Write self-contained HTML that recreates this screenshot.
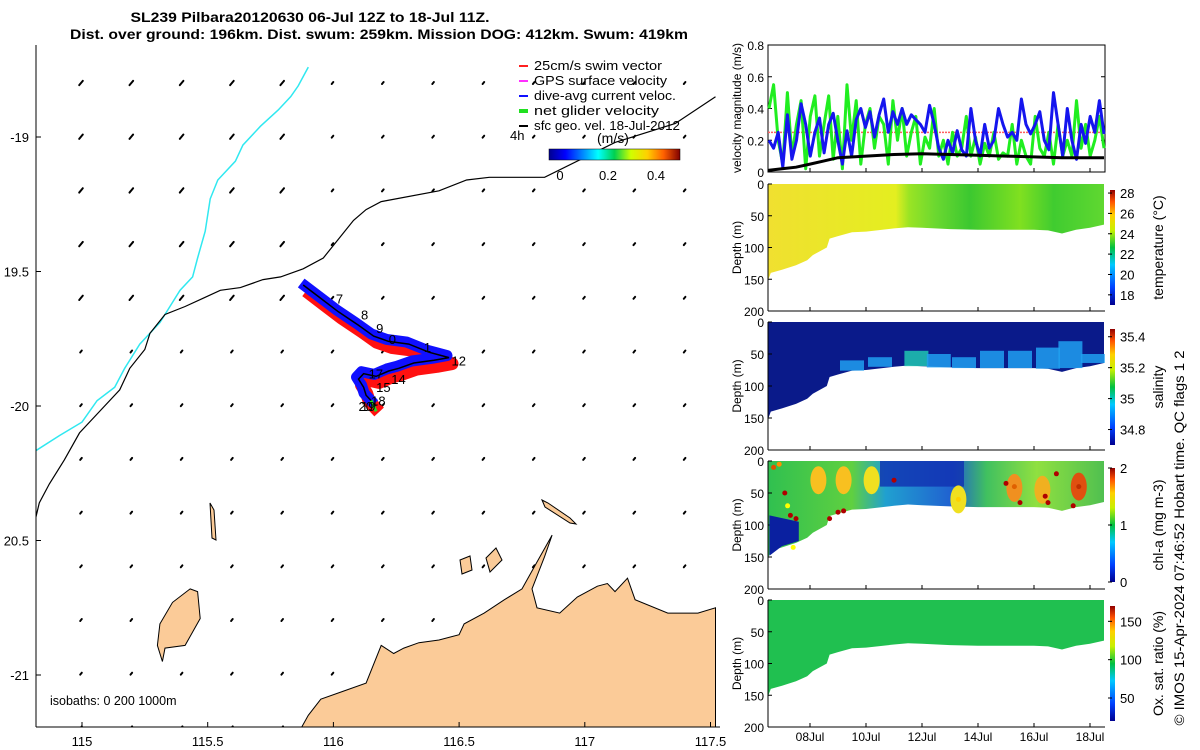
<!DOCTYPE html>
<html><head><meta charset="utf-8"><style>
body{margin:0;background:#fff;}
svg{display:block;font-family:"Liberation Sans","DejaVu Sans",sans-serif;}
</style></head><body>
<svg id="fig" width="1200" height="750" viewBox="0 0 1200 750">
<defs>
<linearGradient id="jetH" x1="0" x2="1" y1="0" y2="0">
<stop offset="0" stop-color="#00008f"/><stop offset="0.125" stop-color="#0000ff"/><stop offset="0.375" stop-color="#00ffff"/><stop offset="0.5" stop-color="#00d050"/><stop offset="0.625" stop-color="#d0ff00"/><stop offset="0.75" stop-color="#ffd000"/><stop offset="0.875" stop-color="#ff6000"/><stop offset="1" stop-color="#800000"/></linearGradient>
<linearGradient id="jetV" x1="0" x2="0" y1="1" y2="0">
<stop offset="0" stop-color="#00008f"/><stop offset="0.15" stop-color="#0040ff"/><stop offset="0.35" stop-color="#00c8ff"/><stop offset="0.5" stop-color="#00c040"/><stop offset="0.65" stop-color="#c8f000"/><stop offset="0.78" stop-color="#ffd000"/><stop offset="0.9" stop-color="#ff5000"/><stop offset="1" stop-color="#900000"/></linearGradient>
<linearGradient id="tempFill" x1="0" x2="1"><stop offset="0" stop-color="#f0e030"/><stop offset="0.38" stop-color="#e4ee20"/><stop offset="0.42" stop-color="#9ae424"/><stop offset="0.5" stop-color="#6ad830"/><stop offset="0.6" stop-color="#3cc830"/><stop offset="0.75" stop-color="#80e020"/><stop offset="0.85" stop-color="#40cc30"/><stop offset="1" stop-color="#60d830"/></linearGradient>
<linearGradient id="salFill" x1="0" x2="0" y1="0" y2="1"><stop offset="0" stop-color="#0a1a8a"/><stop offset="1" stop-color="#0a1a8a"/></linearGradient>
<linearGradient id="chlFill" x1="0" x2="1"><stop offset="0" stop-color="#30c050"/><stop offset="0.25" stop-color="#60d040"/><stop offset="0.35" stop-color="#20a0d0"/><stop offset="0.55" stop-color="#2060d0"/><stop offset="0.65" stop-color="#40c060"/><stop offset="0.8" stop-color="#90e040"/><stop offset="1" stop-color="#50c050"/></linearGradient>
</defs>
<text x="310" y="22" text-anchor="middle" font-size="13.5" font-weight="bold" textLength="359" lengthAdjust="spacingAndGlyphs">SL239 Pilbara20120630 06-Jul 12Z to 18-Jul 11Z.</text>
<text x="379" y="39" text-anchor="middle" font-size="13.5" font-weight="bold" textLength="618" lengthAdjust="spacingAndGlyphs">Dist. over ground: 196km. Dist. swum: 259km. Mission DOG: 412km. Swum: 419km</text>
<g id="map"></g>
<g id="right"></g>
<text transform="translate(1184,538) rotate(-90)" text-anchor="middle" font-size="14" textLength="375" lengthAdjust="spacingAndGlyphs">© IMOS 15-Apr-2024 07:46:52 Hobart time. QC flags 1  2</text>
</svg>
<script>
// ---------- data ----------
const lonTicks=[115,115.5,116,116.5,117,117.5];
const latTicks=[-19,-19.5,-20,-20.5,-21];
const dayTicks=[8,10,12,14,16,18];
const dayLabels=["08Jul","10Jul","12Jul","14Jul","16Jul","18Jul"];
const velBlue=[0.2,0.15,0.25,0.03,0.36,0.08,0.2,0.43,0.3,0.1,0.25,0.34,0.12,0.3,0.37,0.2,0.05,0.26,0.1,0.33,0.4,0.28,0.38,0.22,0.36,0.46,0.25,0.38,0.3,0.4,0.3,0.36,0.33,0.3,0.25,0.42,0.3,0.15,0.08,0.2,0.12,0.26,0.14,0.1,0.4,0.2,0.1,0.3,0.15,0.2,0.4,0.3,0.22,0.25,0.2,0.46,0.3,0.24,0.3,0.38,0.2,0.14,0.5,0.3,0.1,0.4,0.2,0.08,0.3,0.18,0.35,0.25,0.45,0.24];
const velGreen=[0.4,0.55,0.2,0.05,0.5,0.1,0.3,0.45,0.02,0.35,0.48,0.1,0.3,0.48,0.08,0.35,0.02,0.55,0.2,0.45,0.05,0.3,0.4,0.15,0.35,0.3,0.05,0.45,0.2,0.4,0.1,0.25,0.35,0.05,0.22,0.15,0.4,0.1,0.2,0.05,0.25,0.1,0.15,0.35,0.1,0.22,0.05,0.18,0.1,0.25,0.08,0.12,0.1,0.3,0.05,0.2,0.1,0.05,0.35,0.15,0.1,0.25,0.05,0.3,0.1,0.2,0.1,0.45,0.15,0.3,0.1,0.2,0.35,0.15];
const geoDays=[6.5,7,7.5,8,8.5,9,10,11,12,13,14,15,16,17,18,18.5];
const geoVel=[0.01,0.02,0.03,0.05,0.07,0.09,0.1,0.11,0.115,0.11,0.105,0.1,0.095,0.09,0.09,0.09];
const swimSpeed=0.25;
const bottomDays=[6.5,6.6,7,7.5,7.9,8.1,8.6,8.7,9,9.5,10,11,11.5,12,13,14,15,16,16.5,17,17.5,18,18.5];
const bottomDepth=[152,140,135,128,120,112,100,86,82,76,75,70,68,69,71,72,72,72,73,78,72,69,64];
const chlDotsDay=[6.7,7.1,7.3,7.5,8.7,9,9.2,11,13.3,15,15.3,15.5,16.4,16.5,16.8,17.4,17.6,7.2,7.4,6.9];
const chlDotsDepth=[10,50,85,90,90,80,78,30,60,35,40,65,55,65,20,70,40,70,135,5];
const chlDotsColor=["#e05000","#b00000","#b00000","#b00000","#b00000","#b00000","#b00000","#b00000","#ffd000","#b00000","#e06000","#b00000","#b00000","#b00000","#b00000","#b00000","#c03000","#ffff00","#ffff00","#ff9000"];
const salPatchDay=[9.5,10.5,11.8,12.6,13.5,14.5,15.5,16.5,17.3,18.1];
const salPatchTop=[60,55,45,50,55,45,45,40,30,50];
const trackLon=[115.88,115.95,116.02,116.1,116.16,116.22,116.3,116.38,116.46,116.4,116.32,116.26,116.22,116.17,116.12,116.1,116.12,116.13,116.15,116.17];
const trackLat=[-19.55,-19.6,-19.65,-19.7,-19.74,-19.76,-19.77,-19.8,-19.82,-19.83,-19.84,-19.86,-19.87,-19.89,-19.88,-19.9,-19.93,-19.96,-19.98,-20.0];
const dayMarkLabels=["7","8","9","0","1","12","14","15","17","18","19","20"];
const dayMarkLon=[116.01,116.11,116.17,116.22,116.36,116.47,116.23,116.17,116.14,116.15,116.11,116.1];
const dayMarkLat=[-19.6,-19.66,-19.71,-19.75,-19.78,-19.83,-19.9,-19.93,-19.88,-19.98,-20.0,-20.0];
const coastLon=[115.84,115.9,115.95,116.04,116.13,116.19,116.24,116.28,116.34,116.42,116.5,116.52,116.6,116.68,116.75,116.81,116.87,116.84,116.79,116.81,116.9,116.97,117.05,117.09,117.12,117.17,117.2,117.33,117.45,117.52,117.52];
const coastLat=[-21.25,-21.15,-21.09,-21.06,-21.03,-20.89,-20.92,-20.9,-20.88,-20.87,-20.85,-20.81,-20.77,-20.72,-20.68,-20.58,-20.48,-20.56,-20.68,-20.75,-20.77,-20.71,-20.67,-20.66,-20.69,-20.64,-20.72,-20.77,-20.77,-20.75,-21.25];
const islandLon=[115.43,115.46,115.47,115.41,115.33,115.32,115.3,115.31,115.36];
const islandLat=[-20.68,-20.69,-20.79,-20.89,-20.9,-20.95,-20.89,-20.81,-20.73];
const cyanLon=[115.9,115.86,115.83,115.78,115.71,115.64,115.61,115.54,115.51,115.49,115.46,115.44,115.39,115.31,115.23,115.17,115.13,115.06,115.0,114.91,114.81];
const cyanLat=[-18.74,-18.81,-18.85,-18.9,-18.96,-19.03,-19.09,-19.16,-19.23,-19.35,-19.45,-19.52,-19.57,-19.69,-19.77,-19.86,-19.93,-19.98,-20.06,-20.11,-20.17];
const blackLon=[117.52,117.36,117.12,116.84,116.69,116.62,116.53,116.42,116.19,116.13,116.08,115.96,115.88,115.79,115.72,115.63,115.55,115.48,115.41,115.33,115.27,115.25,115.19,115.15,115.07,114.99,114.93,114.87,114.83,114.81];
const blackLat=[-18.85,-18.95,-19.02,-19.15,-19.15,-19.15,-19.16,-19.2,-19.24,-19.27,-19.31,-19.45,-19.49,-19.52,-19.53,-19.56,-19.57,-19.6,-19.63,-19.66,-19.73,-19.79,-19.86,-19.94,-20.02,-20.1,-20.2,-20.29,-20.36,-20.44];
// ---------- helpers ----------
const NS="http://www.w3.org/2000/svg";
function mk(tag,attrs,parent,txt){const e=document.createElementNS(NS,tag);for(const k in attrs)e.setAttribute(k,attrs[k]);if(txt!==undefined)e.textContent=txt;parent.appendChild(e);return e;}
const map=document.getElementById('map'), right=document.getElementById('right');
const X=lon=>82+(lon-115)*251.4;
const Y=lat=>137+(-19-lat)*269;
function pts(lons,lats){return lons.map((l,i)=>X(l).toFixed(1)+','+Y(lats[i]).toFixed(1)).join(' ');}
const cp=mk('clipPath',{id:'mapclip'},map);mk('rect',{x:36,y:45,width:684,height:682},cp);
const mg=mk('g',{'clip-path':'url(#mapclip)'},map);
for(let i=0;i<13;i++)for(let j=0;j<13;j++){const x=81+i*50.3,y=83+j*53.7;
 const big=(i<5&&j<5)?1.8:0.8;
 const a=mk('line',{x1:x+big,y1:y-big*1.2,x2:x-big,y2:y+big*1.2,stroke:'#000','stroke-width':2,'stroke-linecap':'round'},mg);
 }
let c=mk('polyline',{points:pts(cyanLon,cyanLat),fill:'none',stroke:'#30e8f0','stroke-width':1.5},mg);

c=mk('polyline',{points:pts(blackLon,blackLat),fill:'none',stroke:'#000','stroke-width':1.2},mg);

c=mk('polygon',{points:pts(coastLon,coastLat),fill:'#fbcb98',stroke:'#000','stroke-width':1},mg);

c=mk('polygon',{points:pts(islandLon,islandLat),fill:'#fbcb98',stroke:'#000','stroke-width':1},mg);

c=mk('path',{d:'M542,500 L548,503 L570,518 L576,524 L570,523 L545,507 Z M460,560 L470,556 L472,570 L462,574 Z M486,558 L496,548 L502,560 L490,572 Z M210,503 L214,510 L216,540 L212,538 Z',fill:'#fbcb98',stroke:'#000','stroke-width':1},mg);

const tp=pts(trackLon,trackLat);
const tpShift=trackLon.map((l,i)=>(X(l)+3).toFixed(1)+','+(Y(trackLat[i])+6).toFixed(1)).join(' ');
const tpUp=trackLon.map((l,i)=>(X(l)-2).toFixed(1)+','+(Y(trackLat[i])-2).toFixed(1)).join(' ');
c=mk('polyline',{points:tpShift,fill:'none',stroke:'#ff1010','stroke-width':13,'stroke-linejoin':'round'},mg);

c=mk('polyline',{points:tpUp,fill:'none',stroke:'#1010ff','stroke-width':11,'stroke-linejoin':'round'},mg);

c=mk('polyline',{points:tp,fill:'none',stroke:'#000','stroke-width':1.5},mg);

c=mk('line',{x1:X(116.15),y1:Y(-19.98),x2:X(116.17),y2:Y(-20.02),stroke:'#20e020','stroke-width':3},mg);

dayMarkLabels.forEach((t,i)=>{const e=mk('text',{x:X(dayMarkLon[i]),y:Y(dayMarkLat[i])+5,'font-size':13},mg,t);
 });
mk('line',{x1:36,y1:45,x2:36,y2:727,stroke:'#000'},map);mk('line',{x1:36,y1:727,x2:720,y2:727,stroke:'#000'},map);
lonTicks.forEach(v=>{mk('line',{x1:X(v),y1:727,x2:X(v),y2:722,stroke:'#000'},map);
 const e=mk('text',{x:X(v),y:746,'text-anchor':'middle','font-size':13},map,String(v));});
latTicks.forEach(v=>{mk('line',{x1:36,y1:Y(v),x2:41,y2:Y(v),stroke:'#000'},map);
 const e=mk('text',{x:29,y:Y(v)+5,'text-anchor':'end','font-size':13},map,v===-19||v===-20||v===-21?String(v):String(-v));});
let t=mk('text',{x:50,y:705,'font-size':12.5},map,'isobaths: 0   200  1000m');
const lg=mk('g',{},map);
const legC=['#ff2020','#ff30ff','#1010ff','#20e020','#000'];const legT=['25cm/s swim vector','GPS surface velocity','dive-avg current veloc.','net glider velocity','sfc geo. vel. 18-Jul-2012'];
legT.forEach((s,i)=>{const y=62+i*15;mk('line',{x1:519,y1:y+4,x2:528,y2:y+4,stroke:legC[i],'stroke-width':i==3?4:2},lg);
 const e=mk('text',{x:534,y:y+8,'font-size':12.5,textLength:[128,133,142,125,146][i],lengthAdjust:'spacingAndGlyphs'},lg,s);});
mk('text',{x:510,y:140,'font-size':13},map,'4h');
mk('text',{x:597,y:143,'font-size':14},map,'(m/s)');
c=mk('rect',{x:549,y:149,width:131,height:11,fill:'url(#jetH)',stroke:'#000','stroke-width':0.5},map);

[[0,560],[0.2,608],[0.4,656]].forEach(p=>{mk('text',{x:p[1],y:180,'text-anchor':'middle','font-size':13},map,String(p[0]));});

// ---------- right panels ----------
const L=768,R=1105;
const TX=d=>810+(d-8)*28;
function timeAxis(bottom,labels){dayTicks.forEach((d,i)=>{mk('line',{x1:TX(d),y1:bottom,x2:TX(d),y2:bottom-4,stroke:'#000'},right);
 if(labels){const e=mk('text',{x:TX(d),y:bottom+14,'text-anchor':'middle','font-size':12},right,dayLabels[i]);}});}
const VY=v=>172-v*158.75;
c=mk('rect',{x:L,y:45,width:R-L,height:127,fill:'#fff',stroke:'#000'},right);
[0,0.2,0.4,0.6,0.8].forEach(v=>{mk('line',{x1:L,y1:VY(v),x2:L+4,y2:VY(v),stroke:'#000'},right);mk('line',{x1:R,y1:VY(v),x2:R-4,y2:VY(v),stroke:'#000'},right);
 mk('text',{x:L-4,y:VY(v)+5,'text-anchor':'end','font-size':12},right,String(v));});
timeAxis(172,false);
c=mk('line',{x1:L,y1:VY(swimSpeed),x2:R,y2:VY(swimSpeed),stroke:'#ff6060','stroke-width':1.5,'stroke-dasharray':'2 1'},right);
function series(arr,col,w,name){const n=arr.length;const p=arr.map((v,i)=>(L+1+i*(R-L-2)/(n-1)).toFixed(1)+','+VY(v).toFixed(1)).join(' ');
 const e=mk('polyline',{points:p,fill:'none',stroke:col,'stroke-width':w,'stroke-linejoin':'round'},right);}
series(velGreen,'#20ee20',3,'net-glider-velocity-series');
series(velBlue,'#1515ee',3,'current-velocity-series');
c=mk('polyline',{points:geoDays.map((d,i)=>TX(d).toFixed(1)+','+VY(geoVel[i]).toFixed(1)).join(' '),fill:'none',stroke:'#000','stroke-width':3},right);
t=mk('text',{transform:'translate(741,108) rotate(-90)','text-anchor':'middle','font-size':12},right,'velocity magnitude (m/s)');
const panels=[{top:184,bot:311,fill:'url(#tempFill)',cb:[190,305],ticks:[18,20,22,24,26,28],lo:17,hi:28.3,title:'temperature (°C)',name:'temperature'},
{top:322,bot:450,fill:'url(#salFill)',cb:[329,445],ticks:[34.8,35,35.2,35.4],lo:34.7,hi:35.45,title:'salinity',name:'salinity'},
{top:461,bot:589,fill:'url(#chlFill)',cb:[468,582],ticks:[0,1,2],lo:0,hi:2,title:'chl-a (mg m-3)',name:'chlorophyll'},
{top:600,bot:727,fill:'#20c050',cb:[606,721],ticks:[50,100,150],lo:20,hi:170,title:'Ox. sat. ratio (%)',name:'oxygen'}];
panels.forEach((P,k)=>{const DY=d=>P.top+d*(P.bot-P.top)/200;
 const poly=[TX(6.5)+','+DY(0)].concat(bottomDays.map((d,i)=>TX(d).toFixed(1)+','+DY(bottomDepth[i]).toFixed(1))).concat([TX(18.5)+','+DY(0)]).join(' ');
 let e=mk('polygon',{points:poly,fill:P.fill},right);
 mk('line',{x1:L,y1:P.top,x2:L,y2:P.bot,stroke:'#000'},right);mk('line',{x1:L,y1:P.bot,x2:R,y2:P.bot,stroke:'#000'},right);
 [0,50,100,150,200].forEach(d=>{mk('line',{x1:L,y1:DY(d),x2:L+4,y2:DY(d),stroke:'#000'},right);mk('text',{x:L-4,y:DY(d)+5,'text-anchor':'end','font-size':12},right,String(d));});
 timeAxis(P.bot,k==3);
 const yt=mk('text',{transform:`translate(741,${(P.top+P.bot)/2}) rotate(-90)`,'text-anchor':'middle','font-size':12},right,'Depth (m)');
 const cb=mk('rect',{x:1110,y:P.cb[0],width:5,height:P.cb[1]-P.cb[0],fill:'url(#jetV)'},right);
 P.ticks.forEach(v=>{const y=P.cb[1]-(v-P.lo)/(P.hi-P.lo)*(P.cb[1]-P.cb[0]);mk('line',{x1:1108,y1:y,x2:1112,y2:y,stroke:'#000'},right);mk('text',{x:1120,y:y+5,'font-size':13},right,String(v));});
 const ct=mk('text',{transform:`translate(1163,${(P.cb[0]+P.cb[1])/2}) rotate(-90)`,'text-anchor':'middle','font-size':14},right,P.title);
});
const salP=panels[1];const SDY=d=>salP.top+d*(salP.bot-salP.top)/200;
salPatchDay.forEach((d,i)=>{const b=bottomDepth[bottomDays.findIndex(x=>x>=d)]||70;
 const e=mk('rect',{x:TX(d)-12,y:SDY(salPatchTop[i]),width:24,height:SDY(b)-SDY(salPatchTop[i]),fill:i==2?'#20c8b0':'#20a0f0',opacity:0.85},right);
 });
const chlP=panels[2];const CDY=d=>chlP.top+d*(chlP.bot-chlP.top)/200;
c=mk('rect',{x:TX(10.5),y:CDY(0),width:TX(13.5)-TX(10.5),height:CDY(40)-CDY(0),fill:'#1030b0',opacity:0.8},right);
c=mk('polygon',{points:[TX(6.55)+','+CDY(85),TX(7.6)+','+CDY(95),TX(7.6)+','+CDY(125),TX(7)+','+CDY(133),TX(6.55)+','+CDY(148)].join(' '),fill:'#0a20a0'},right);
[[8.3,30,'#f8c020'],[9.2,30,'#f8c020'],[10.2,30,'#f0e020'],[15.3,42,'#f09020'],[16.3,45,'#f0b020'],[17.6,40,'#e05010'],[13.3,60,'#f0e020']].forEach(b=>{
 const e=mk('ellipse',{cx:TX(b[0]),cy:CDY(b[1]),rx:8,ry:14,fill:b[2]},right);});
chlDotsDay.forEach((d,i)=>{const e=mk('circle',{cx:TX(d),cy:CDY(chlDotsDepth[i]),r:2.5,fill:chlDotsColor[i]},right);});
</script>
</body></html>
